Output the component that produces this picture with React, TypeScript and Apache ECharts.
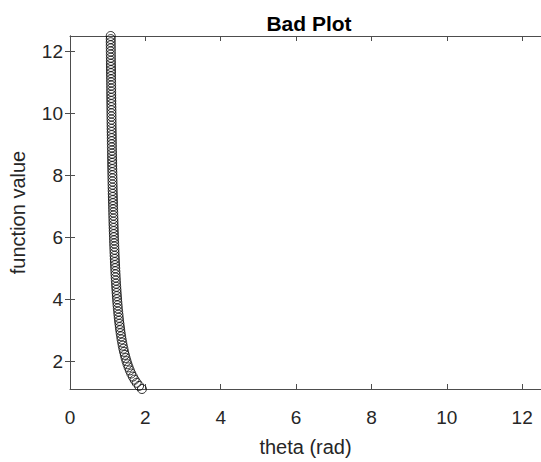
import React, { useEffect, useRef } from "react";
import * as echarts from "echarts";

const TITLE = "Bad Plot";
const X_NAME = "theta (rad)";
const Y_NAME = "function value";

const xTicks = [0, 2, 4, 6, 8, 10, 12];
const yTicks = [2, 4, 6, 8, 10, 12];

// function value (vertical axis)
const functionValues = [
  1.1, 1.2, 1.3, 1.4, 1.5, 1.6, 1.7, 1.8, 1.9, 2.0,
  2.1, 2.2, 2.3, 2.4, 2.5, 2.6, 2.7, 2.8, 2.9, 3.0,
  3.1, 3.2, 3.3, 3.4, 3.5, 3.6, 3.7, 3.8, 3.9, 4.0,
  4.1, 4.2, 4.3, 4.4, 4.5, 4.6, 4.7, 4.8, 4.9, 5.0,
  5.1, 5.2, 5.3, 5.4, 5.5, 5.6, 5.7, 5.8, 5.9, 6.0,
  6.1, 6.2, 6.3, 6.4, 6.5, 6.6, 6.7, 6.8, 6.9, 7.0,
  7.1, 7.2, 7.3, 7.4, 7.5, 7.6, 7.7, 7.8, 7.9, 8.0,
  8.1, 8.2, 8.3, 8.4, 8.5, 8.6, 8.7, 8.8, 8.9, 9.0,
  9.1, 9.2, 9.3, 9.4, 9.5, 9.6, 9.7, 9.8, 9.9, 10.0,
  10.1, 10.2, 10.3, 10.4, 10.5, 10.6, 10.7, 10.8, 10.9, 11.0,
  11.1, 11.2, 11.3, 11.4, 11.5, 11.6, 11.7, 11.8, 11.9, 12.0,
  12.1, 12.2, 12.3, 12.4, 12.5,
];

// theta (horizontal axis)
const thetaValues = [
  1.909, 1.833, 1.769, 1.714, 1.667, 1.625, 1.588, 1.556, 1.526, 1.5,
  1.476, 1.455, 1.435, 1.417, 1.4, 1.385, 1.37, 1.357, 1.345, 1.333,
  1.323, 1.313, 1.303, 1.294, 1.286, 1.278, 1.27, 1.263, 1.256, 1.25,
  1.244, 1.238, 1.233, 1.227, 1.222, 1.217, 1.213, 1.208, 1.204, 1.2,
  1.196, 1.192, 1.189, 1.185, 1.182, 1.179, 1.175, 1.172, 1.169, 1.167,
  1.164, 1.161, 1.159, 1.156, 1.154, 1.152, 1.149, 1.147, 1.145, 1.143,
  1.141, 1.139, 1.137, 1.135, 1.133, 1.132, 1.13, 1.128, 1.127, 1.125,
  1.123, 1.122, 1.12, 1.119, 1.118, 1.116, 1.115, 1.114, 1.112, 1.111,
  1.11, 1.109, 1.108, 1.106, 1.105, 1.104, 1.103, 1.102, 1.101, 1.1,
  1.099, 1.098, 1.097, 1.096, 1.095, 1.094, 1.093, 1.093, 1.092, 1.091,
  1.09, 1.089, 1.088, 1.088, 1.087, 1.086, 1.085, 1.085, 1.084, 1.083,
  1.083, 1.082, 1.081, 1.081, 1.08,
];

const FONT = "'Liberation Sans', Arial, Helvetica, sans-serif";
const AXIS_COLOR = "#4d4d4d";
const TEXT_COLOR = "#262626";

export default function App() {
  const ref = useRef<HTMLDivElement>(null);

  useEffect(() => {
    if (!ref.current) return;
    const chart = echarts.init(ref.current, undefined, { renderer: "svg" });
    const points = thetaValues.map((t, i) => [t, functionValues[i]]);

    const baseAxisLine = { show: true, lineStyle: { color: AXIS_COLOR, width: 1 } };
    const baseTick = { show: true, inside: true, length: 5, lineStyle: { color: AXIS_COLOR, width: 1 } };

    chart.setOption({
      animation: false,
      backgroundColor: "#ffffff",
      title: {
        text: TITLE,
        left: 304,
        top: 8,
        textAlign: "center",
        textStyle: { fontFamily: FONT, fontSize: 21, fontWeight: "bold", color: "#000000" },
      },
      grid: { left: 67, right: 0, top: 36, bottom: 63, containLabel: false },
      xAxis: [
        {
          type: "value",
          min: 0,
          max: 12.5,
          position: "bottom",
          name: X_NAME,
          nameLocation: "middle",
          nameGap: 48,
          nameTextStyle: { fontFamily: FONT, fontSize: 20, color: TEXT_COLOR },
          axisLine: baseAxisLine,
          axisTick: { ...baseTick, customValues: xTicks },
          axisLabel: {
            customValues: xTicks,
            fontFamily: FONT,
            fontSize: 19,
            color: TEXT_COLOR,
            margin: 19,
          },
          splitLine: { show: false },
        },
        {
          type: "value",
          min: 0,
          max: 12.5,
          position: "top",
          axisLine: baseAxisLine,
          axisTick: { ...baseTick, customValues: xTicks },
          axisLabel: { show: false },
          splitLine: { show: false },
        },
      ],
      yAxis: [
        {
          type: "value",
          min: 1.1,
          max: 12.5,
          position: "left",
          name: Y_NAME,
          nameLocation: "middle",
          nameGap: 42,
          nameTextStyle: { fontFamily: FONT, fontSize: 20, color: TEXT_COLOR },
          axisLine: baseAxisLine,
          axisTick: { ...baseTick, customValues: yTicks },
          axisLabel: {
            customValues: yTicks,
            fontFamily: FONT,
            fontSize: 19,
            color: TEXT_COLOR,
            margin: 7,
          },
          splitLine: { show: false },
        },
        {
          type: "value",
          min: 1.1,
          max: 12.5,
          position: "right",
          axisLine: baseAxisLine,
          axisTick: { ...baseTick, customValues: yTicks },
          axisLabel: { show: false },
          splitLine: { show: false },
        },
      ],
      series: [
        {
          type: "scatter",
          data: points,
          xAxisIndex: 0,
          yAxisIndex: 0,
          symbol: "circle",
          symbolSize: 9,
          clip: false,
          itemStyle: { color: "rgba(0,0,0,0)", borderColor: "#000000", borderWidth: 1 },
        },
      ],
    });

    return () => chart.dispose();
  }, []);

  return (
    <div
      ref={ref}
      style={{ position: "fixed", left: 0, top: 0, width: 541, height: 462, background: "#fff" }}
    />
  );
}
